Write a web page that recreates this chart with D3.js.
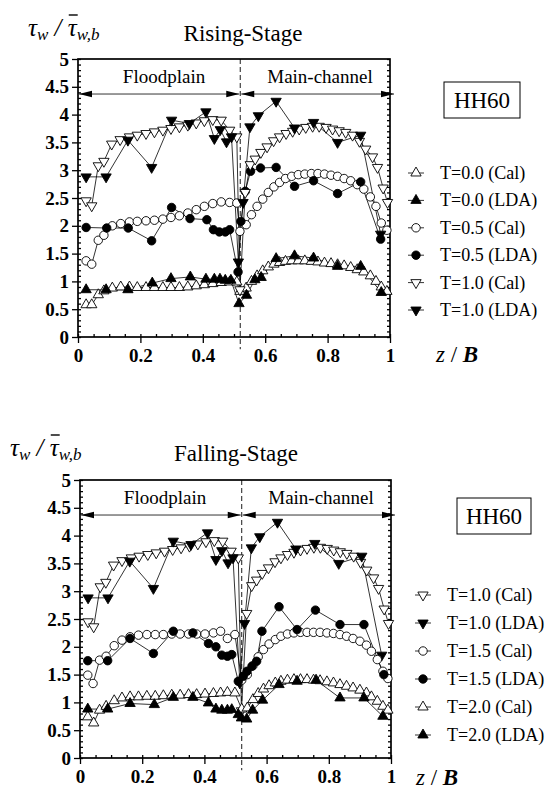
<!DOCTYPE html>
<html>
<head>
<meta charset="utf-8">
<script src="https://cdn.jsdelivr.net/npm/d3@7"></script>
<style>
  body { margin: 0; background: #fff; }
  svg { display: block; }
  svg text { font-family: "Liberation Serif", Tinos, "Times New Roman", Times, "DejaVu Serif", serif; }
</style>
</head>
<body>
<div id="chart"></div>
<script>
const Y_TICKS = [0, 0.5, 1, 1.5, 2, 2.5, 3, 3.5, 4, 4.5, 5];
const Y_TICK_LABELS = ["0", "0.5", "1", "1.5", "2", "2.5", "3", "3.5", "4", "4.5", "5"];
const X_TICKS = [0, 0.2, 0.4, 0.6, 0.8, 1];
const X_TICK_LABELS = ["0", "0.2", "0.4", "0.6", "0.8", "1"];
const JUNCTION_Z = 0.52;
const ZONE_ARROW_V = 4.37;
const ZONE_LABELS = ["Floodplain", "Main-channel"];

// [z/B, tau_w / tau_wb]
const riseT00Cal = [[0.026,0.58],[0.044,0.58],[0.065,0.76],[0.083,0.83],[0.11,0.88],[0.137,0.9],[0.165,0.9],[0.19,0.89],[0.218,0.89],[0.245,0.89],[0.272,0.89],[0.298,0.89],[0.325,0.89],[0.352,0.9],[0.379,0.92],[0.405,0.94],[0.432,0.96],[0.459,0.98],[0.486,0.99],[0.509,0.99],[0.519,0.82],[0.539,0.88],[0.556,1.0],[0.574,1.1],[0.592,1.19],[0.61,1.26],[0.628,1.31],[0.646,1.34],[0.665,1.36],[0.685,1.37],[0.706,1.37],[0.727,1.37],[0.748,1.36],[0.769,1.35],[0.79,1.33],[0.811,1.32],[0.832,1.3],[0.853,1.28],[0.874,1.25],[0.895,1.21],[0.916,1.17],[0.937,1.1],[0.955,1.0],[0.972,0.9],[0.99,0.82]];
const riseT00Lda = [[0.026,0.85],[0.09,0.85],[0.16,0.85],[0.238,0.97],[0.298,1.05],[0.36,1.08],[0.41,1.04],[0.437,1.04],[0.455,1.04],[0.472,1.02],[0.49,1.02],[0.516,0.6],[0.54,0.75],[0.567,1.03],[0.587,1.07],[0.635,1.41],[0.694,1.46],[0.755,1.42],[0.832,1.27],[0.906,1.27],[0.972,0.8]];
const riseT05Cal = [[0.026,1.37],[0.044,1.31],[0.065,1.74],[0.083,1.83],[0.11,2.0],[0.137,2.04],[0.165,2.07],[0.19,2.08],[0.218,2.09],[0.245,2.1],[0.272,2.12],[0.298,2.15],[0.325,2.18],[0.352,2.23],[0.379,2.29],[0.405,2.35],[0.432,2.4],[0.459,2.43],[0.486,2.42],[0.509,2.41],[0.519,1.9],[0.539,2.02],[0.556,2.2],[0.574,2.35],[0.592,2.48],[0.61,2.6],[0.628,2.7],[0.646,2.78],[0.665,2.85],[0.685,2.89],[0.706,2.92],[0.727,2.93],[0.748,2.94],[0.769,2.94],[0.79,2.93],[0.811,2.91],[0.832,2.89],[0.853,2.85],[0.874,2.81],[0.895,2.74],[0.916,2.66],[0.937,2.52],[0.955,2.35],[0.972,2.05],[0.99,1.92]];
const riseT05Lda = [[0.026,1.97],[0.092,1.96],[0.161,1.96],[0.236,1.73],[0.3,2.33],[0.359,2.13],[0.413,2.11],[0.434,1.93],[0.453,1.89],[0.472,1.89],[0.486,1.93],[0.513,1.17],[0.522,2.08],[0.536,2.62],[0.553,2.98],[0.585,3.04],[0.635,3.05],[0.694,2.71],[0.755,2.81],[0.832,2.58],[0.906,2.79],[0.97,1.76]];
const t10Cal = [[0.026,2.45],[0.044,2.36],[0.065,3.08],[0.083,3.16],[0.108,3.47],[0.135,3.55],[0.165,3.6],[0.19,3.63],[0.218,3.66],[0.245,3.69],[0.272,3.72],[0.298,3.75],[0.325,3.78],[0.352,3.81],[0.379,3.85],[0.405,3.89],[0.432,3.91],[0.459,3.9],[0.486,3.72],[0.509,3.6],[0.519,0.85],[0.536,2.6],[0.552,3.1],[0.568,3.2],[0.586,3.32],[0.606,3.42],[0.627,3.53],[0.646,3.6],[0.667,3.66],[0.688,3.7],[0.709,3.74],[0.73,3.77],[0.752,3.79],[0.773,3.79],[0.795,3.77],[0.816,3.74],[0.837,3.71],[0.858,3.68],[0.88,3.63],[0.902,3.52],[0.922,3.38],[0.944,3.24],[0.96,3.05],[0.978,2.68],[0.992,2.42]];
const t10Lda = [[0.026,2.88],[0.09,2.88],[0.16,3.54],[0.236,3.05],[0.3,3.9],[0.357,3.84],[0.41,4.05],[0.437,3.57],[0.456,3.73],[0.476,3.51],[0.492,3.6],[0.514,1.35],[0.529,2.42],[0.551,3.78],[0.578,3.98],[0.635,4.24],[0.694,3.76],[0.755,3.86],[0.832,3.5],[0.906,3.63],[0.97,1.85]];

const fallT15Cal = [[0.025,1.49],[0.042,1.34],[0.063,1.76],[0.084,1.83],[0.11,2.02],[0.135,2.12],[0.161,2.18],[0.188,2.21],[0.215,2.22],[0.242,2.22],[0.268,2.22],[0.295,2.23],[0.322,2.23],[0.349,2.23],[0.375,2.23],[0.402,2.23],[0.429,2.25],[0.452,2.28],[0.474,2.15],[0.498,2.22],[0.52,1.4],[0.538,1.5],[0.556,1.66],[0.573,1.82],[0.59,1.95],[0.608,2.05],[0.628,2.13],[0.646,2.19],[0.667,2.23],[0.688,2.25],[0.709,2.26],[0.73,2.26],[0.751,2.26],[0.772,2.26],[0.794,2.25],[0.815,2.24],[0.836,2.22],[0.857,2.19],[0.878,2.15],[0.9,2.1],[0.921,2.03],[0.937,1.92],[0.956,1.77],[0.974,1.56],[0.99,1.43]];
const fallT15Lda = [[0.025,1.75],[0.089,1.75],[0.161,2.15],[0.236,1.88],[0.3,2.28],[0.363,2.25],[0.413,2.06],[0.437,2.0],[0.456,1.85],[0.474,1.83],[0.488,1.86],[0.509,1.38],[0.525,1.47],[0.537,1.56],[0.553,1.65],[0.568,1.74],[0.585,2.28],[0.64,2.72],[0.698,2.31],[0.757,2.66],[0.836,2.4],[0.913,2.4],[0.977,1.5]];
const fallT20Cal = [[0.025,0.74],[0.044,0.63],[0.063,0.86],[0.084,0.93],[0.11,1.03],[0.135,1.08],[0.161,1.1],[0.188,1.1],[0.215,1.11],[0.242,1.11],[0.268,1.12],[0.295,1.13],[0.322,1.13],[0.349,1.14],[0.375,1.14],[0.402,1.15],[0.429,1.16],[0.452,1.17],[0.474,1.18],[0.498,1.17],[0.52,0.88],[0.538,0.9],[0.556,1.05],[0.573,1.16],[0.59,1.24],[0.608,1.3],[0.628,1.35],[0.646,1.38],[0.667,1.4],[0.688,1.41],[0.709,1.41],[0.73,1.41],[0.751,1.4],[0.772,1.39],[0.794,1.37],[0.815,1.35],[0.836,1.32],[0.857,1.29],[0.878,1.26],[0.9,1.22],[0.921,1.17],[0.937,1.1],[0.956,1.02],[0.974,0.93],[0.99,0.86]];
const fallT20Lda = [[0.025,0.88],[0.089,0.88],[0.161,0.98],[0.239,0.96],[0.3,1.09],[0.363,1.09],[0.413,0.99],[0.437,0.88],[0.456,0.86],[0.474,0.86],[0.488,0.87],[0.509,0.78],[0.519,0.72],[0.536,0.7],[0.555,0.86],[0.587,1.04],[0.64,1.32],[0.698,1.38],[0.759,1.4],[0.836,1.08],[0.913,1.08],[0.974,0.75]];

const RISING_SERIES = [
  { label: "T=0.0 (Cal)", data: riseT00Cal, shape: "up", filled: false },
  { label: "T=0.0 (LDA)", data: riseT00Lda, shape: "up", filled: true },
  { label: "T=0.5 (Cal)", data: riseT05Cal, shape: "circle", filled: false },
  { label: "T=0.5 (LDA)", data: riseT05Lda, shape: "circle", filled: true },
  { label: "T=1.0 (Cal)", data: t10Cal, shape: "down", filled: false },
  { label: "T=1.0 (LDA)", data: t10Lda, shape: "down", filled: true },
];

const FALLING_SERIES = [
  { label: "T=1.0 (Cal)", data: t10Cal, shape: "down", filled: false },
  { label: "T=1.0 (LDA)", data: t10Lda, shape: "down", filled: true },
  { label: "T=1.5 (Cal)", data: fallT15Cal, shape: "circle", filled: false },
  { label: "T=1.5 (LDA)", data: fallT15Lda, shape: "circle", filled: true },
  { label: "T=2.0 (Cal)", data: fallT20Cal, shape: "up", filled: false },
  { label: "T=2.0 (LDA)", data: fallT20Lda, shape: "up", filled: true },
];

const triangle = d3.symbol().type(d3.symbolTriangle).size(46);
const circle = d3.symbol().type(d3.symbolCircle).size(56);

function appendMarker(g, shape, filled, px, py) {
  const rotate = shape === "down" ? " rotate(180)" : "";
  g.append("path")
    .attr("d", shape === "circle" ? circle() : triangle())
    .attr("fill", filled ? "#000" : "#fff")
    .attr("stroke", "#000")
    .attr("stroke-width", 0.9)
    .attr("transform", `translate(${px},${py})${rotate}`);
}

function styleAxis(group) {
  group.select(".domain").remove();
  group.attr("font-family", null).attr("font-size", 19).attr("font-weight", "bold");
  group.selectAll("line").attr("stroke-width", 1.3);
}

function drawArrowHead(g, xTip, yTip, dir) {
  g.append("path")
    .attr("d", `M${xTip},${yTip} L${xTip - dir * 13},${yTip - 3.2} L${xTip - dir * 13},${yTip + 3.2} Z`)
    .attr("fill", "#000");
}

function drawYLabel(svg, x0, baseline) {
  const label = svg.append("text")
    .attr("x", x0)
    .attr("y", baseline)
    .attr("font-style", "italic")
    .attr("font-size", 25);
  label.append("tspan").text("τ");
  label.append("tspan").attr("font-size", 17).attr("dy", 4).text("w");
  label.append("tspan").attr("dy", -4).text(" / ");
  label.append("tspan").text("τ");
  label.append("tspan").attr("font-size", 17).attr("dy", 4).text("w,b");

  const ext = label.node().getExtentOfChar(5);
  svg.append("line")
    .attr("x1", ext.x + 1)
    .attr("x2", ext.x + ext.width + 1)
    .attr("y1", baseline - 21)
    .attr("y2", baseline - 21)
    .attr("stroke", "#000")
    .attr("stroke-width", 1.4);
}

function drawPanel(svg, p) {
  const x = d3.scaleLinear().domain([0, 1]).range([p.left, p.right]);
  const y = d3.scaleLinear().domain([0, 5]).range([p.bottom, p.top]);

  svg.append("text")
    .attr("x", p.titleX)
    .attr("y", p.titleY)
    .attr("text-anchor", "middle")
    .attr("font-size", 23)
    .text(p.title);
  drawYLabel(svg, p.yLabelX, p.yLabelY);

  // minor ticks, pointing inward
  const minorY = d3.range(0, 51).map((i) => i / 10);
  const minorX = d3.range(0, 21).map((i) => i / 20);

  svg.append("g")
    .attr("transform", `translate(${p.left},0)`)
    .call(d3.axisLeft(y).tickValues(minorY).tickSize(-3).tickFormat(""))
    .call(styleAxis);
  svg.append("g")
    .attr("transform", `translate(${p.right},0)`)
    .call(d3.axisRight(y).tickValues(minorY).tickSize(-3).tickFormat(""))
    .call(styleAxis);
  svg.append("g")
    .attr("transform", `translate(0,${p.bottom})`)
    .call(d3.axisBottom(x).tickValues(minorX).tickSize(-3).tickFormat(""))
    .call(styleAxis);

  // major ticks with labels
  svg.append("g")
    .attr("transform", `translate(${p.left},0)`)
    .call(d3.axisLeft(y).tickValues(Y_TICKS).tickSize(6).tickPadding(3)
      .tickFormat((d, i) => Y_TICK_LABELS[i]))
    .call(styleAxis);
  svg.append("g")
    .attr("transform", `translate(0,${p.bottom})`)
    .call(d3.axisBottom(x).tickValues(X_TICKS).tickSize(6).tickPadding(6)
      .tickFormat((d, i) => X_TICK_LABELS[i]))
    .call(styleAxis);

  svg.append("rect")
    .attr("x", p.left)
    .attr("y", p.top)
    .attr("width", p.right - p.left)
    .attr("height", p.bottom - p.top)
    .attr("fill", "none")
    .attr("stroke", "#000")
    .attr("stroke-width", 1.7);

  svg.append("line")
    .attr("x1", x(JUNCTION_Z))
    .attr("x2", x(JUNCTION_Z))
    .attr("y1", y(5))
    .attr("y2", y(-0.22))
    .attr("stroke", "#000")
    .attr("stroke-width", 0.9)
    .attr("stroke-dasharray", "5,3");

  // floodplain / main-channel arrows
  const zones = svg.append("g");
  const ay = y(ZONE_ARROW_V);
  const spans = [[x(0) + 1, x(JUNCTION_Z) - 1], [x(JUNCTION_Z) + 1, x(1) + 4]];
  spans.forEach(([a, b], i) => {
    zones.append("line")
      .attr("x1", a).attr("x2", b).attr("y1", ay).attr("y2", ay)
      .attr("stroke", "#000").attr("stroke-width", 0.8);
    drawArrowHead(zones, a, ay, -1);
    drawArrowHead(zones, b, ay, 1);
    zones.append("text")
      .attr("x", p.zoneLabelX[i])
      .attr("y", y(4.57))
      .attr("text-anchor", "middle")
      .attr("font-size", 19)
      .text(ZONE_LABELS[i]);
  });

  const line = d3.line().x((d) => x(d[0])).y((d) => y(d[1]));
  const plot = svg.append("g");
  p.series.forEach((s) => {
    plot.append("path")
      .attr("d", line(s.data))
      .attr("fill", "none")
      .attr("stroke", "#000")
      .attr("stroke-width", 0.8);
  });
  p.series.forEach((s) => {
    const mg = plot.append("g");
    s.data.forEach((d) => appendMarker(mg, s.shape, s.filled, x(d[0]), y(d[1])));
  });

  svg.append("rect")
    .attr("x", p.box[0]).attr("y", p.box[1])
    .attr("width", p.box[2]).attr("height", p.box[3])
    .attr("fill", "#fff").attr("stroke", "#000").attr("stroke-width", 1);
  svg.append("text")
    .attr("x", p.box[0] + p.box[2] / 2)
    .attr("y", p.box[1] + p.box[3] / 2 + 8)
    .attr("text-anchor", "middle")
    .attr("font-size", 23)
    .text("HH60");

  const legend = svg.append("g");
  p.series.forEach((s, i) => {
    const ly = p.legendY + i * p.legendStep;
    legend.append("line")
      .attr("x1", p.legendX - 8).attr("x2", p.legendX + 8)
      .attr("y1", ly).attr("y2", ly)
      .attr("stroke", "#000").attr("stroke-width", 0.8);
    appendMarker(legend, s.shape, s.filled, p.legendX, ly);
    legend.append("text")
      .attr("x", p.legendX + 24)
      .attr("y", ly + 6)
      .attr("font-size", 18)
      .text(s.label);
  });

  const zb = svg.append("text")
    .attr("x", p.zbX)
    .attr("y", p.zbY)
    .attr("font-size", 23)
    .attr("font-style", "italic");
  zb.append("tspan").text("z");
  zb.append("tspan").attr("font-style", "normal").text(" / ");
  zb.append("tspan").attr("font-weight", "bold").text("B");
}

const width = 547;
const height = 791;
const svg = d3.select("#chart").append("svg").attr("width", width).attr("height", height);

drawPanel(svg, {
  title: "Rising-Stage", titleX: 243, titleY: 41,
  yLabelX: 28, yLabelY: 36,
  left: 78, right: 390, top: 59, bottom: 337,
  zoneLabelX: [164, 320],
  series: RISING_SERIES,
  box: [444, 82, 76, 36],
  legendX: 416, legendY: 173, legendStep: 27.4,
  zbX: 436, zbY: 362,
});

drawPanel(svg, {
  title: "Falling-Stage", titleX: 236, titleY: 461,
  yLabelX: 10, yLabelY: 456,
  left: 80, right: 391, top: 480, bottom: 758,
  zoneLabelX: [165, 321],
  series: FALLING_SERIES,
  box: [457, 498, 74, 36],
  legendX: 423, legendY: 595, legendStep: 28,
  zbX: 416, zbY: 785,
});
</script>
</body>
</html>
